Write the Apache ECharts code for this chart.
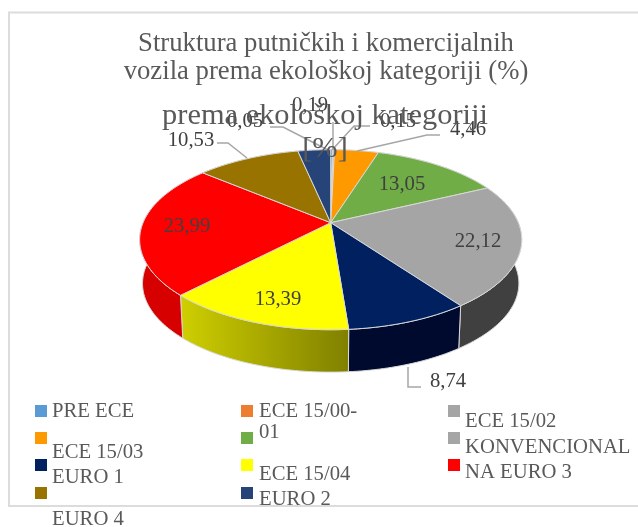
<!DOCTYPE html>
<html><head><meta charset="utf-8">
<style>html,body{margin:0;padding:0;background:#fff}#c{width:638px;height:527px}</style>
<script src="https://cdn.jsdelivr.net/npm/echarts@6/dist/echarts.min.js"></script>
</head><body><div id="c"></div>
<script>
// ---- data ----
const categories = ['PRE ECE','ECE 15/00-01','ECE 15/02','ECE 15/03','ECE 15/04','KONVENCIONALNA','EURO 1','EURO 2','EURO 3','EURO 4','EURO 5'];
const values     = [0.19,0.05,0.15,4.46,13.05,22.12,8.74,13.39,23.99,10.53,3.33];
const valueTexts = ['0,19','0,05','0,15','4,46','13,05','22,12','8,74','13,39','23,99','10,53',''];
const legendTexts = ['PRE ECE','ECE 15/00-','01','ECE 15/02','ECE 15/03','KONVENCIONAL','NA EURO 3','EURO 1','ECE 15/04','EURO 2','EURO 4'];
const titleText = 'Struktura putničkih i komercijalnih\nvozila prema ekološkoj kategoriji (%)';
const subTitleText = 'prema ekološkoj kategoriji';
const unitText = '[%]';

// ---- styles and layout ----
const topColors  = ['#5b9bd5','#ed7d31','#a5a5a5','#ff9900','#70ad47','#a5a5a5','#002060','#ffff00','#ff0000','#997300','#264478'];
const sideColors = ['#3a6d9a','#a8581f','#4a4a4a','#b36b00','#4f7a32','#404040','#000a2e',null,'#d60000','#6b5000','#1a3055'];
const legendSwatches = [[35,411,'#5b9bd5'],[241,411,'#ed7d31'],[448,411,'#a5a5a5'],[35,438,'#ff9900'],[241,438,'#70ad47'],[448,438,'#a5a5a5'],[35,465,'#002060'],[241,465,'#ffff00'],[448,465,'#ff0000'],[35,493,'#997300'],[241,493,'#264478']];
const legendPos = [[52,412],[259,412],[259,433],[465,422],[52,453],[465,448],[465,473],[52,478],[259,475],[259,500],[52,520]];
const labelPos = [[310,106],[245,122],[398,122],[468,130],[402,185],[478,242],[448,382],[278,300],[187,227],[191,141]];
const leaders = [
  [[333,122],[333,150]],
  [[270,127],[283,127],[328,150]],
  [[370,126],[354,126],[332,150]],
  [[440,135],[427,135],[357,151]],
  null,null,
  [[408,367],[408,387],[421,387]],
  null,null,
  [[217,143],[228,143],[247,158]]
];
const P = {cx:330.7, cy:222.7, b:187.6, a:86.8, k:0.189, depth:44, shrink:0.985};
const SERIF = '"Liberation Serif"';

const total = values.reduce((s,v)=>s+v,0);
const starts = []; values.reduce((s,v,i)=>{starts[i]=s;return s+v;},0);
const ang = v => v/total*2*Math.PI;
function proj(t,lower){
  const w = 1 + P.k*Math.cos(t), s = lower?P.shrink:1;
  return [P.cx + s*P.b*Math.sin(t)/w, P.cy + (lower?P.depth:0) - s*P.a*Math.cos(t)/w];
}
function arc(t0,t1,lower){
  const n = Math.max(2,Math.ceil((t1-t0)/0.02)), pts=[];
  for(let i=0;i<=n;i++) pts.push(proj(t0+(t1-t0)*i/n,lower));
  return pts;
}
const EDGE = '#d9d9d9';
const chart = echarts.init(document.getElementById('c'),null,{renderer:'canvas'});
const rows = values.map((v,i)=>[v,i]);
const option = {
  backgroundColor:'#fff',
  animation:false,
  title:[
    {text:titleText,left:321,top:25,textAlign:'center',textStyle:{fontFamily:SERIF,fontSize:26.7,fontWeight:'normal',color:'#595959',lineHeight:28}},
    {text:subTitleText,left:320,top:95,textAlign:'center',textStyle:{fontFamily:SERIF,fontSize:30.4,fontWeight:'normal',color:'#595959',lineHeight:32}},
    {text:unitText,left:320,top:128,textAlign:'center',textStyle:{fontFamily:SERIF,fontSize:30.4,fontWeight:'normal',color:'#595959',lineHeight:32}}
  ],
  graphic:[
    {type:'polyline',silent:true,shape:{points:[[638,12.5],[9,12.5],[9,506],[638,506]]},style:{stroke:'#dcdcdc',lineWidth:2,fill:null}},
    ...legendSwatches.map(s=>({type:'rect',silent:true,shape:{x:s[0],y:s[1]-6,width:12,height:12},style:{fill:s[2]}})),
    ...legendTexts.map((t,i)=>({type:'text',silent:true,x:legendPos[i][0],y:legendPos[i][1],style:{text:t,fontFamily:SERIF,fontSize:20.7,fill:'#595959',textVerticalAlign:'middle',textAlign:'left'}}))
  ],
  series:[
    {type:'custom',coordinateSystem:'none',z:2,silent:true,data:rows,encode:{value:0},
     renderItem(params,api){
      const i=api.value(1),t0=ang(starts[i]),t1=ang(starts[i]+values[i]);
      const pts=arc(t0,t1,false).concat(arc(t0,t1,true).reverse());
      let fill=sideColors[i];
      if(fill===null){
        fill=new echarts.graphic.LinearGradient(1,0,0,0,[{offset:0,color:'#808000'},{offset:1,color:'#cfcf00'}]);
      }
      return {type:'polygon',shape:{points:pts},style:{fill,stroke:EDGE,lineWidth:1}};
     }},
    {type:'custom',coordinateSystem:'none',z:3,silent:true,data:rows,encode:{value:0},
     renderItem(params,api){
      const i=api.value(1),t0=ang(starts[i]),t1=ang(starts[i]+values[i]);
      const pts=[[P.cx,P.cy]].concat(arc(t0,t1,false));
      return {type:'polygon',shape:{points:pts},style:{fill:topColors[i],stroke:EDGE,lineWidth:1}};
     }},
    {type:'custom',coordinateSystem:'none',z:4,silent:true,data:rows.slice(0,labelPos.length),encode:{value:0},
     renderItem(params,api){
      const i=api.value(1),children=[];
      if(leaders[i]) children.push({type:'polyline',shape:{points:leaders[i]},style:{stroke:'#a6a6a6',lineWidth:1.5,fill:null}});
      children.push({type:'text',x:labelPos[i][0],y:labelPos[i][1],style:{text:valueTexts[i],fontFamily:SERIF,fontSize:20.7,fill:'#404040',textAlign:'center',textVerticalAlign:'middle'}});
      return {type:'group',children};
     }}
  ]
};
chart.setOption(option);
</script></body></html>
